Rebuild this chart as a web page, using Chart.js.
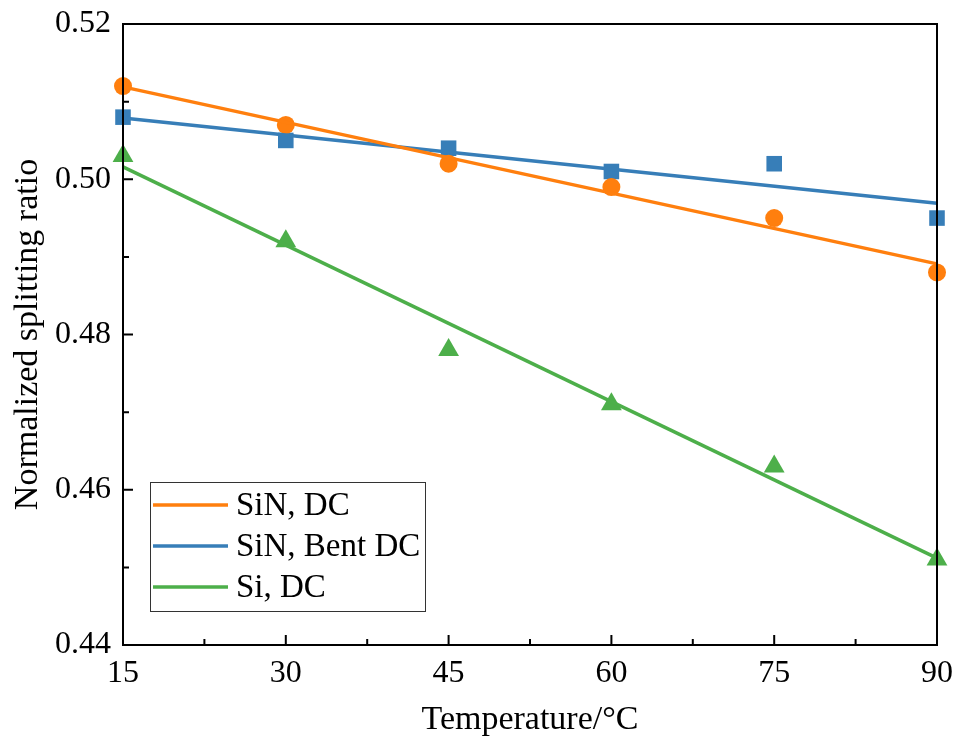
<!DOCTYPE html>
<html>
<head>
<meta charset="utf-8">
<script src="https://cdn.jsdelivr.net/npm/chart.js@4.4.1/dist/chart.umd.min.js"></script>
<style>
  html, body { margin: 0; padding: 0; background: #fff; }
  #wrap { width: 961px; height: 744px; }
</style>
</head>
<body>
<div id="wrap"><canvas id="grafico" width="961" height="744"></canvas></div>
<script>
const temperaturas = [15, 30, 45, 60, 75, 90];

const sinDc = [0.512, 0.507, 0.502, 0.499, 0.495, 0.488];
const sinBentDc = [0.508, 0.505, 0.504, 0.501, 0.502, 0.495];
const siDc = [0.503, 0.492, 0.478, 0.471, 0.463, 0.451];

const ajusteX = [15, 90];
const ajusteSinDc = [0.5119, 0.4891];
const ajusteSinBentDc = [0.5079, 0.4969];
const ajusteSiDc = [0.5016, 0.4512];

const rotulos = ['SiN, DC', 'SiN, Bent DC', 'Si, DC'];
const ticksX = [15, 30, 45, 60, 75, 90];
const ticksY = [0.44, 0.46, 0.48, 0.50, 0.52];

const LARANJA = '#ff7f0e';
const AZUL = '#377eb8';
const VERDE = '#4daf4a';
const FONTE = '"Liberation Serif", "Times New Roman", serif';

const pares = (xs, ys) => xs.map((x, i) => ({ x: x, y: ys[i] }));

function pontos(dados, cor, estilo, raio) {
    return {
        type: 'scatter',
        data: pares(temperaturas, dados),
        showLine: false,
        pointStyle: estilo,
        pointRadius: raio,
        pointHoverRadius: raio,
        backgroundColor: cor,
        borderColor: cor,
        borderWidth: 0,
        clip: false
    };
}

function ajuste(dados, cor, rotulo) {
    return {
        type: 'line',
        label: rotulo,
        data: pares(ajusteX, dados),
        borderColor: cor,
        backgroundColor: cor,
        borderWidth: 3.5,
        pointRadius: 0,
        tension: 0,
        fill: false,
        clip: false
    };
}

// eixos com ticks para dentro + moldura completa
const pluginEixos = {
    id: 'eixos',
    afterDatasetsDraw(chart) {
        const { ctx, chartArea: a, scales } = chart;
        const sx = scales.x, sy = scales.y;
        ctx.save();
        ctx.strokeStyle = '#000';
        ctx.lineWidth = 2;
        ctx.strokeRect(a.left, a.top, a.right - a.left, a.bottom - a.top);
        ctx.beginPath();
        for (let v = 15; v <= 90; v += 7.5) {
            const px = sx.getPixelForValue(v);
            const maior = (v % 15 === 0);
            ctx.moveTo(px, a.bottom);
            ctx.lineTo(px, a.bottom - (maior ? 10 : 6));
        }
        for (let k = 0; k <= 8; k++) {
            const v = 0.44 + k * 0.01;
            const py = sy.getPixelForValue(v);
            ctx.moveTo(a.left, py);
            ctx.lineTo(a.left + (k % 2 === 0 ? 10 : 6), py);
        }
        ctx.stroke();
        ctx.restore();
    }
};

// legenda dentro da area do grafico
const pluginLegenda = {
    id: 'legendaCaixa',
    afterDatasetsDraw(chart) {
        const { ctx } = chart;
        const linhas = chart.data.datasets.filter(d => d.label);
        const x0 = 150, y0 = 482, larg = 275, alt = 129;
        ctx.save();
        ctx.fillStyle = '#fff';
        ctx.fillRect(x0, y0, larg, alt);
        ctx.strokeStyle = '#333';
        ctx.lineWidth = 1;
        ctx.strokeRect(x0 + 0.5, y0 + 0.5, larg, alt);
        ctx.font = '33px ' + FONTE;
        ctx.textBaseline = 'middle';
        linhas.forEach((d, i) => {
            const y = y0 + 23 + i * 41;
            ctx.strokeStyle = d.borderColor;
            ctx.lineWidth = 3.5;
            ctx.beginPath();
            ctx.moveTo(x0 + 3, y);
            ctx.lineTo(x0 + 78, y);
            ctx.stroke();
            ctx.fillStyle = '#000';
            ctx.fillText(d.label, x0 + 86, y + 1);
        });
        ctx.restore();
    }
};

new Chart(document.getElementById('grafico').getContext('2d'), {
    data: {
        datasets: [
            ajuste(ajusteSinDc, LARANJA, rotulos[0]),
            ajuste(ajusteSinBentDc, AZUL, rotulos[1]),
            ajuste(ajusteSiDc, VERDE, rotulos[2]),
            pontos(sinDc, LARANJA, 'circle', 9),
            pontos(sinBentDc, AZUL, 'rect', 11),
            pontos(siDc, VERDE, 'triangle', 12)
        ]
    },
    options: {
        responsive: false,
        animation: false,
        devicePixelRatio: 1,
        layout: { padding: { left: 0, top: 24, right: 24, bottom: 0 } },
        plugins: {
            legend: { display: false },
            tooltip: { enabled: false }
        },
        scales: {
            x: {
                type: 'linear',
                min: 15,
                max: 90,
                afterBuildTicks: (s) => { s.ticks = ticksX.map(v => ({ value: v })); },
                afterFit: (s) => { s.height = 99; },
                grid: { display: false, drawTicks: false },
                border: { display: false },
                ticks: { color: '#000', font: { family: FONTE, size: 32 }, padding: 9, maxRotation: 0 },
                title: { display: true, text: 'Temperature/°C', color: '#000', font: { family: FONTE, size: 34 }, padding: { top: 16 } }
            },
            y: {
                type: 'linear',
                min: 0.44,
                max: 0.52,
                afterBuildTicks: (s) => { s.ticks = ticksY.map(v => ({ value: v })); },
                afterFit: (s) => { s.width = 123; },
                grid: { display: false, drawTicks: false },
                border: { display: false },
                ticks: { color: '#000', font: { family: FONTE, size: 32 }, padding: 12, callback: (v) => v.toFixed(2) },
                title: { display: true, text: 'Normalized splitting ratio', color: '#000', font: { family: FONTE, size: 34 }, padding: { top: 8, bottom: 0 } }
            }
        }
    },
    plugins: [pluginEixos, pluginLegenda,
        {
            id: 'ajusteArea',
            afterLayout(chart) {
                // prende a area do grafico nas posicoes da referencia
                const a = chart.chartArea;
                a.top = 24; a.bottom = 645; a.left = 123; a.right = 937;
                a.width = a.right - a.left; a.height = a.bottom - a.top;
                chart.scales.x.left = 123; chart.scales.x.right = 937; chart.scales.x.width = 814;
                chart.scales.y.top = 24; chart.scales.y.bottom = 645; chart.scales.y.height = 621;
                chart.scales.x.configure(); chart.scales.y.configure();
            }
        }
    ]
});
</script>
</body>
</html>
